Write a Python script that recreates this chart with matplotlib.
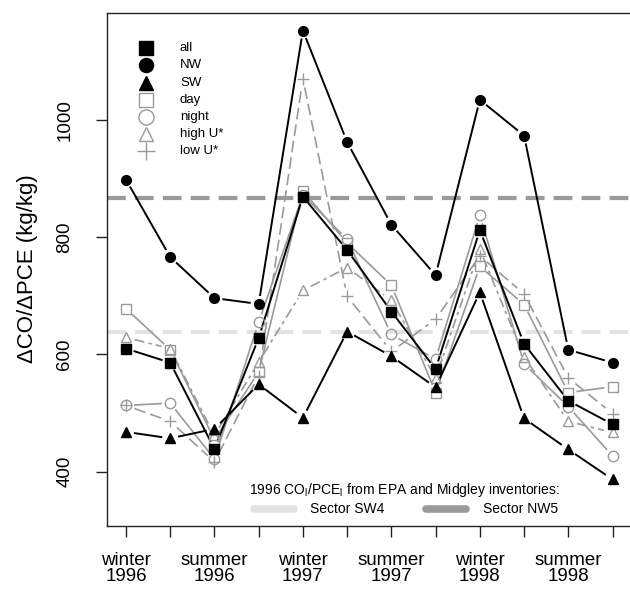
import numpy as np
import matplotlib
matplotlib.use('Agg')
import matplotlib.pyplot as plt
from matplotlib.lines import Line2D

plt.rcParams['font.family'] = ['Liberation Sans', 'DejaVu Sans']

# seasons: winter 1996 ... fall 1998
season = np.arange(1, 13)
tick_labels = ['winter\n1996', '', 'summer\n1996', '', 'winter\n1997', '', 'summer\n1997', '',
               'winter\n1998', '', 'summer\n1998', '']

all_vals = [610, 586, 439, 628, 869, 778, 673, 575, 812, 618, 521, 481]
nw_vals = [898, 766, 696, 686, 1152, 962, 821, 735, 1034, 973, 608, 586]
sw_vals = [468, 457, 473, 549, 492, 639, 597, 544, 706, 491, 438, 387]
day_vals = [678, 608, 455, 570, 879, 790, 718, 535, 750, 685, 535, 545]
night_vals = [513, 517, 422, 655, 872, 796, 634, 592, 837, 584, 511, 427]
highu_vals = [629, 610, 462, 587, 709, 748, 692, 560, 779, 596, 486, 467]
lowu_vals = [513, 486, 417, 564, 1070, 699, 605, 660, 768, 703, 560, 499]

sw4_ratio = 638   # sector SW4 inventory ratio
nw5_ratio = 866   # sector NW5 inventory ratio

W, H = 630, 593
fig = plt.figure(figsize=(W / 100, H / 100), dpi=100)
L, R, T, B = 106.5, 632, 12.7, 526
ax = fig.add_axes([L / W, (H - B) / H, (R - L) / W, (B - T) / H])
ax.set_xlim(0.56, 12.44)
ax.set_ylim(307.6, 1182.4)

GRAY = '#9a9a9a'
BLACK = 'black'


def px(x, y):
    # pixel position -> figure fraction
    return x / W, 1 - y / H


def draw_b(x, y, gap, **kw):
    # R style type="b": segments stop short of the points
    fwd = ax.transData
    inv = ax.transData.inverted()
    pts = fwd.transform(np.column_stack([x, y]))
    xs, ys = [], []
    for p0, p1 in zip(pts[:-1], pts[1:]):
        d = p1 - p0
        n = np.hypot(*d)
        if n <= 2 * gap:
            continue
        u = d / n
        a, b = inv.transform([p0 + u * gap, p1 - u * gap])
        xs += [a[0], b[0], np.nan]
        ys += [a[1], b[1], np.nan]
    ax.plot(xs, ys, **kw)


# inventory reference lines
ax.axhline(sw4_ratio, color='#e3e3e3', lw=3.0, dashes=(4.5, 2.2), zorder=1)
ax.axhline(nw5_ratio, color=GRAY, lw=3.0, dashes=(4.5, 2.2), zorder=1)

series = [
    (all_vals, BLACK, 's', BLACK, '-', 6.5, 'all'),
    (nw_vals, BLACK, 'o', BLACK, '-', 7.0, 'NW'),
    (sw_vals, BLACK, '^', BLACK, '-', 6.5, 'SW'),
    (day_vals, GRAY, 's', 'none', '-', 7.0, 'day'),
    (night_vals, GRAY, 'o', 'none', '-', 7.5, 'night'),
    (highu_vals, GRAY, '^', 'none', (0, (6, 2.5, 2, 2.5)), 7.0, 'high U*'),
    (lowu_vals, GRAY, '+', GRAY, (0, (7, 3)), 9.0, 'low U*'),
]

for vals, col, mk, fc, ls, ms, lab in series[::-1]:
    lw = 1.4 if col == BLACK else 1.2
    draw_b(season, vals, 9, color=col, lw=lw, ls=ls, zorder=2)
    ax.plot(season, vals, ls='none', marker=mk, ms=ms, mfc=fc, mec=col,
            mew=1.0, zorder=3)

# axes styling
for s in ax.spines.values():
    s.set_linewidth(1.0)
    s.set_color('#222222')
ax.set_xticks(season)
ax.set_xticklabels(tick_labels, fontsize=13.5, linespacing=0.95)
ax.set_yticks([400, 600, 800, 1000])
ax.set_yticklabels(['400', '600', '800', '1000'], rotation=90, va='center', fontsize=13.5)
ax.tick_params(axis='x', length=8, width=1.0, pad=10.5, color='#222222')
ax.tick_params(axis='y', length=8, width=1.0, pad=16, color='#222222')

fig.text(*px(28, 269), 'ΔCO/ΔPCE (kg/kg)', rotation=90, ha='center', va='center',
         fontsize=16)

# legend for the series (top left)
for i, (vals, col, mk, fc, ls, ms, lab) in enumerate(series):
    y = 48.3 + i * 17.1
    fig.add_artist(Line2D([146 / W], [1 - y / H], marker=mk, ms=ms * 1.45, mfc=fc,
                          mec=col, mew=1.0, ls='none'))
    fig.text(*px(180, y), lab, ha='left', va='center', fontsize=9.5)

# legend for the inventory ratios (bottom)
fig.text(*px(404, 490), r'1996 CO$_\mathregular{l}$/PCE$_\mathregular{l}$ from EPA and Midgley inventories:',
         ha='center', va='center', fontsize=10)
for (x0, x1, tx, col, lab) in [(254, 294, 310, '#e3e3e3', 'Sector SW4'),
                               (426, 466, 483, GRAY, 'Sector NW5')]:
    fig.add_artist(Line2D([x0 / W, x1 / W], [1 - 509 / H] * 2, color=col, lw=5.5,
                          solid_capstyle='round'))
    fig.text(*px(tx, 509), lab, ha='left', va='center', fontsize=10)

fig.savefig('out.png', dpi=100)
